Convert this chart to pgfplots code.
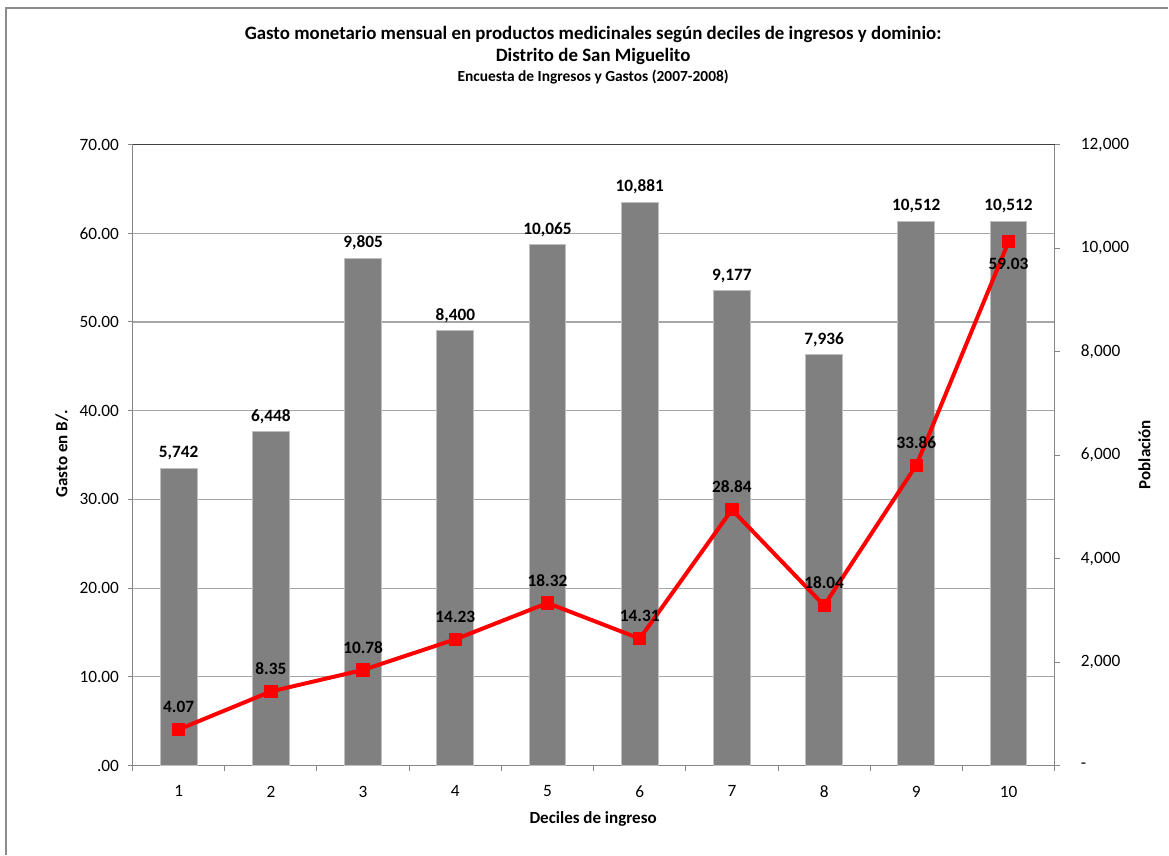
\documentclass[border=0pt]{standalone}
\usepackage{pgfplots}
\pgfplotsset{compat=1.18}
\usepackage{pgfplotstable}
\usepackage{fontspec}
\setmainfont{Carlito}
\definecolor{bargray}{HTML}{808080}
\definecolor{baredge}{HTML}{BFBFBF}
\definecolor{gridgray}{HTML}{A6A6A6}
\definecolor{axisgray}{HTML}{868686}
\definecolor{framegray}{HTML}{8C8C8C}
\definecolor{topline}{HTML}{404040}

\pgfplotstableread{
x pop gasto
1 5742 4.07
2 6448 8.35
3 9805 10.78
4 8400 14.23
5 10065 18.32
6 10881 14.31
7 9177 28.84
8 7936 18.04
9 10512 33.86
10 10512 59.03
}\datatable

\pgfplotsset{
  base/.style={scale only axis, width=693.75pt, height=467.25pt,
    at={(99.75pt,66pt)}, anchor=south west, xmin=0.5, xmax=10.5, clip=false},
  /pgf/number format/assume math mode=true,
  linelabel/.style={draw=none, mark=none,
    nodes near coords={\pgfmathprintnumber[fixed, fixed zerofill, precision=2]{\pgfplotspointmeta}},
    nodes near coords style={font=\bfseries\fontsize{13}{15}\selectfont, text=black}},
}

\begin{document}
\begin{tikzpicture}[x=0.75pt,y=0.75pt]
\path (0,0) rectangle (1169,856);
\draw[framegray, line width=1.1pt] (6,-2) -- (6,848) -- (1172,848);

% grid + left axis + x axis
\begin{axis}[base, ymin=0, ymax=70,
  ytick={0,10,...,70},
  yticklabels={.00,10.00,20.00,30.00,40.00,50.00,60.00,70.00},
  xtick={0.5,1.5,...,10.5},
  xticklabels={1,2,3,4,5,6,7,8,9,10},
  x tick label as interval,
  axis y line*=left, axis x line*=bottom,
  tick align=outside, major tick length=3.75pt,
  tick style={axisgray, line width=0.75pt},
  axis line style={axisgray, line width=1.1pt},
  ymajorgrids, grid style={gridgray, line width=0.9pt},
  tick label style={font=\fontsize{13}{15}\selectfont, text=black},
  yticklabel style={xshift=-3pt},
  xticklabel style={yshift=-8pt},
]
\addplot[draw=none] coordinates {(1,0)};
\draw[topline, line width=1.1pt] (axis cs:0.5,70) -- (axis cs:10.5,70);
\end{axis}

% bars + right axis
\begin{axis}[base, ymin=0, ymax=12000,
  axis y line*=right, axis x line=none,
  scaled y ticks=false,
  ytick={0,2000,...,12000},
  yticklabels={{-},{2,000},{4,000},{6,000},{8,000},{10,000},{12,000}},
  tick align=outside, major tick length=3.75pt,
  tick style={axisgray, line width=0.75pt},
  axis line style={axisgray, line width=1.1pt},
  tick label style={font=\fontsize{13}{15}\selectfont, text=black},
  yticklabel style={xshift=12.5pt},
]
\addplot[ybar, bar width=0.4, fill=bargray, draw=baredge, line width=0.75pt,
  nodes near coords={\pgfmathprintnumber[1000 sep={,}]{\pgfplotspointmeta}},
  nodes near coords style={font=\bfseries\fontsize{13}{15}\selectfont, text=black, anchor=south, yshift=2.5pt}]
  table[x=x, y=pop] {\datatable};
\end{axis}

% line
\begin{axis}[base, ymin=0, ymax=70, hide axis]
\addplot[red, line width=3pt, mark=square*, mark size=4.6pt,
  mark options={solid, fill=red, draw=red, line width=0pt}]
  table[x=x, y=gasto] {\datatable};
\addplot[linelabel, skip coords between index={9}{10},
  nodes near coords style={anchor=south, yshift=9pt}]
  table[x=x, y=gasto] {\datatable};
\addplot[linelabel, skip coords between index={0}{9},
  nodes near coords style={anchor=north, yshift=-9pt}]
  table[x=x, y=gasto] {\datatable};
\end{axis}

\node[font=\bfseries\fontsize{14.2}{17}\selectfont] at (595,821) {Gasto monetario mensual en productos medicinales según deciles de ingresos y dominio:};
\node[font=\bfseries\fontsize{14.2}{17}\selectfont] at (595,799) {Distrito de San Miguelito};
\node[font=\bfseries\fontsize{11.6}{13}\selectfont] at (595,779) {Encuesta de Ingresos y Gastos (2007-2008)};
\node[rotate=90, font=\bfseries\fontsize{12.8}{15}\selectfont] at (62,401) {Gasto en B/.};
\node[rotate=90, font=\bfseries\fontsize{12.8}{15}\selectfont] at (1148,400) {Población};
\node[font=\bfseries\fontsize{12.8}{15}\selectfont] at (595,34) {Deciles de ingreso};
\end{tikzpicture}
\end{document}
